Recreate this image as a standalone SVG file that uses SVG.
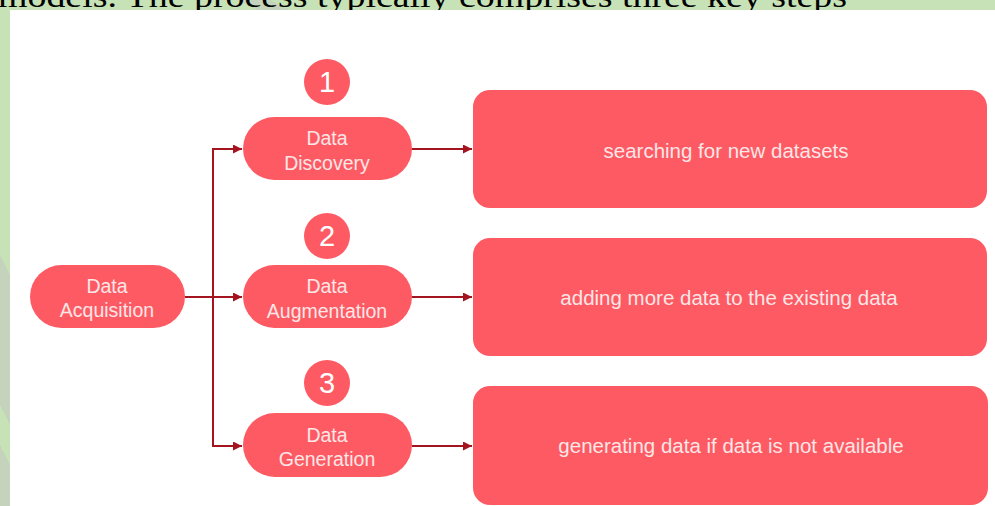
<svg xmlns="http://www.w3.org/2000/svg" width="995" height="506" viewBox="0 0 995 506">
<style>
.bg{fill:#c6e2b6}
.wm{fill:#c4cdbf;opacity:0.7}
.pill{fill:#fd5a64}
.box{fill:#fd5a64}
.t{font-family:"Liberation Sans",Arial,sans-serif;font-size:19.5px;fill:#fde6e6;text-anchor:middle}
.bt{font-family:"Liberation Sans",Arial,sans-serif;font-size:20.5px;fill:#fde6e6;text-anchor:middle}
.num{font-family:"Liberation Sans",Arial,sans-serif;font-size:29px;fill:#ffffff;text-anchor:middle}
.ln{stroke:#a3141f;stroke-width:2;fill:none}
.hd{font-family:"Liberation Serif","Times New Roman",serif;font-size:32px;fill:#000}
</style>
<defs>
<marker id="ah" viewBox="0 0 10 10" refX="10" refY="5" markerWidth="4.5" markerHeight="4.5" orient="auto" markerUnits="strokeWidth">
<path d="M0,0 L10,5 L0,10 z" fill="#a3141f"/>
</marker>
</defs>
<rect class="bg" x="0" y="0" width="995" height="506"/>
<polygon class="wm" points="0,255 10,275 10,425 0,405"/>
<polygon class="wm" points="0,445 10,465 10,506 0,506"/>
<polygon class="wm" points="238,0 270,0 290,10 258,10"/>
<text class="hd" x="-2" y="7" textLength="849" lengthAdjust="spacingAndGlyphs">models. The process typically comprises three key steps</text>
<rect x="10" y="10" width="985" height="496" fill="#ffffff"/>
<g id="connectors">
<line class="ln" x1="185" y1="297" x2="242" y2="297" marker-end="url(#ah)"/>
<path class="ln" d="M213,446 L213,149"/>
<line class="ln" x1="212" y1="149" x2="242" y2="149" marker-end="url(#ah)"/>
<line class="ln" x1="212" y1="446" x2="242" y2="446" marker-end="url(#ah)"/>
<line class="ln" x1="412" y1="149" x2="472" y2="149" marker-end="url(#ah)"/>
<line class="ln" x1="412" y1="297" x2="472" y2="297" marker-end="url(#ah)"/>
<line class="ln" x1="412" y1="446" x2="472" y2="446" marker-end="url(#ah)"/>
</g>
<g id="acquisition">
<rect class="pill" x="30" y="265" width="155" height="63" rx="31.5"/>
<text class="t" x="107" y="293">Data</text>
<text class="t" x="107" y="317">Acquisition</text>
</g>
<g id="step1">
<circle class="pill" cx="327" cy="82" r="23"/>
<text class="num" x="327" y="92">1</text>
</g>
<g id="discovery">
<rect class="pill" x="243" y="117" width="169" height="63" rx="31.5"/>
<text class="t" x="327" y="145">Data</text>
<text class="t" x="327" y="170">Discovery</text>
</g>
<g id="step2">
<circle class="pill" cx="327" cy="236" r="23"/>
<text class="num" x="327" y="246">2</text>
</g>
<g id="augmentation">
<rect class="pill" x="243" y="265" width="169" height="63" rx="31.5"/>
<text class="t" x="327" y="293">Data</text>
<text class="t" x="327" y="318">Augmentation</text>
</g>
<g id="step3">
<circle class="pill" cx="327" cy="383" r="23"/>
<text class="num" x="327" y="393">3</text>
</g>
<g id="generation">
<rect class="pill" x="243" y="413" width="169" height="64" rx="32"/>
<text class="t" x="327" y="442">Data</text>
<text class="t" x="327" y="466">Generation</text>
</g>
<g id="box1">
<rect class="box" x="473" y="90" width="514" height="118" rx="17"/>
<text class="bt" x="726" y="158">searching for new datasets</text>
</g>
<g id="box2">
<rect class="box" x="473" y="238" width="514" height="118" rx="17"/>
<text class="bt" x="729" y="305">adding more data to the existing data</text>
</g>
<g id="box3">
<rect class="box" x="473" y="386" width="515" height="119" rx="17"/>
<text class="bt" x="731" y="453">generating data if data is not available</text>
</g>
</svg>
